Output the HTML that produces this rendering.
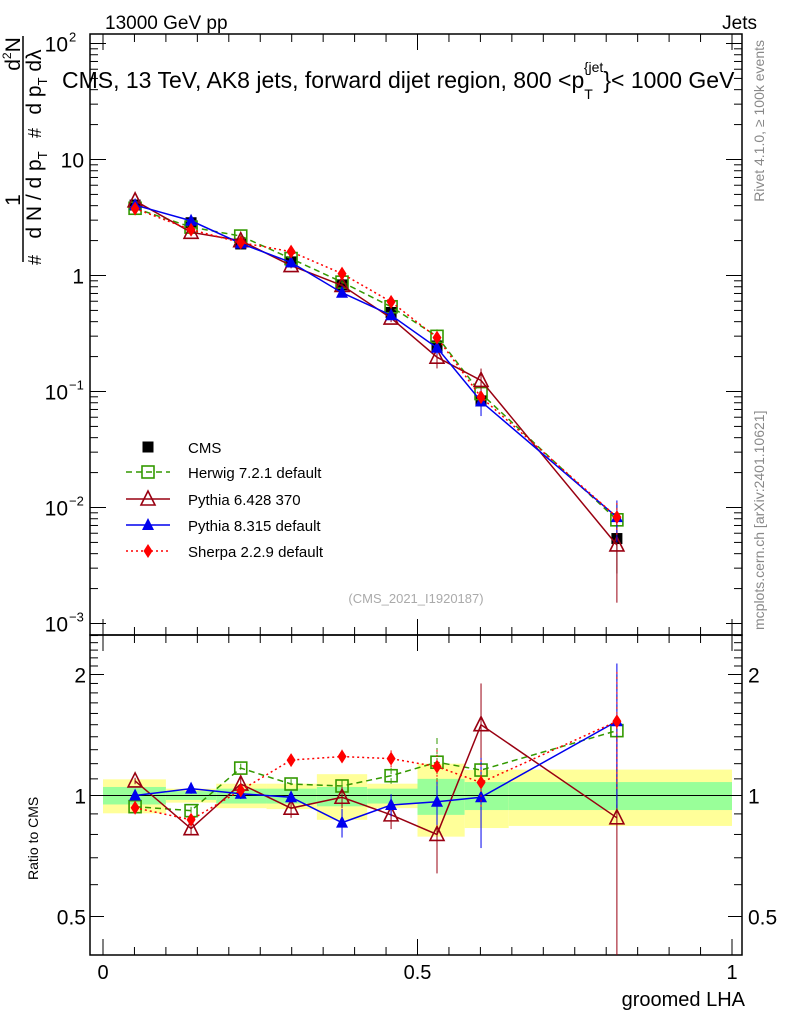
<!DOCTYPE html>
<html><head><meta charset="utf-8"><style>
body{margin:0;background:#fff;width:786px;height:1024px;overflow:hidden}
svg{display:block;font-family:"Liberation Sans",Arial,sans-serif}
</style></head><body>
<svg id="c" width="786" height="1024" viewBox="0 0 786 1024">
<rect x="0" y="0" width="786" height="1024" fill="#fff"/>
<g id="bands"></g>
<g id="axes"></g>
<g id="marks"></g>
<text x="105" y="29" font-size="19">13000 GeV pp</text>
<text x="757" y="29" font-size="19" text-anchor="end">Jets</text>
<text x="62" y="88" font-size="23">CMS, 13 TeV, AK8 jets, forward dijet region, 800 &lt;p<tspan font-size="14" dy="11">T</tspan><tspan font-size="14" dy="-27" dx="-9">{jet</tspan><tspan dy="16">}&lt; 1000 GeV</tspan></text>
<text transform="translate(764,40) rotate(-90)" font-size="14" fill="#888" text-anchor="end">Rivet 4.1.0, ≥ 100k events</text>
<text transform="translate(764,630) rotate(-90)" font-size="14" fill="#888">mcplots.cern.ch [arXiv:2401.10621]</text>
<text x="416" y="603" font-size="13" fill="#aaa" text-anchor="middle">(CMS_2021_I1920187)</text>
<g font-size="21">
<text transform="translate(20,54) rotate(-90)" text-anchor="middle">d<tspan font-size="12" dy="-9">2</tspan><tspan dy="9">N</tspan></text>
<text transform="translate(20,200) rotate(-90)" text-anchor="middle">1</text>
<line x1="23" y1="36" x2="23" y2="262" stroke="#000" stroke-width="1.5"/>
<text transform="translate(41,260) rotate(-90)" text-anchor="middle" font-size="18">#</text>
<text transform="translate(41,195) rotate(-90)" text-anchor="middle">d N / d p<tspan font-size="13" dy="6">T</tspan></text>
<text transform="translate(41,133) rotate(-90)" text-anchor="middle" font-size="18">#</text>
<text transform="translate(41,82) rotate(-90)" text-anchor="middle">d p<tspan font-size="13" dy="6">T</tspan><tspan dy="-6"> d</tspan>λ</text>
</g>
<text transform="translate(38,880) rotate(-90)" font-size="14">Ratio to CMS</text>
<text x="745" y="1006" font-size="20" text-anchor="end">groomed LHA</text>
<g id="legend"></g>
</svg>
<script>
const xCenters=[0.051,0.14,0.219,0.299,0.38,0.458,0.531,0.601,0.817];
const binEdges=[0,0.1,0.18,0.26,0.34,0.42,0.5,0.575,0.645,1.0];
const cmsValues=[4.05,2.85,1.87,1.31,0.83,0.48,0.247,0.083,0.0054];
const cmsErrRel=[0.03,0.03,0.03,0.03,0.04,0.05,0.08,0.12,0.5];
const yellowHi=[1.097,1.04,1.07,1.07,1.13,1.07,1.20,1.157,1.16];
const yellowLo=[0.903,0.96,0.93,0.925,0.87,0.93,0.79,0.83,0.84];
const greenHi=[1.05,1.025,1.04,1.04,1.05,1.04,1.10,1.08,1.08];
const greenLo=[0.95,0.975,0.955,0.955,0.94,0.955,0.895,0.92,0.92];
const herwigRatio=[0.938,0.917,1.17,1.068,1.056,1.12,1.21,1.157,1.45];
const herwigErr=[0.02,0.02,0.03,0.03,0.04,0.05,0.18,0.08,0.55];
const pythia6Ratio=[1.087,0.827,1.068,0.93,0.99,0.895,0.80,1.50,0.88];
const pythia6Err=[0.02,0.03,0.05,0.05,0.06,0.07,0.16,0.4,0.6];
const pythia8Ratio=[1.0,1.04,1.01,0.99,0.856,0.947,0.965,0.99,1.53];
const pythia8Err=[0.02,0.03,0.03,0.03,0.07,0.06,0.12,0.25,0.6];
const sherpaRatio=[0.932,0.87,1.03,1.225,1.25,1.235,1.18,1.077,1.53];
const sherpaErr=[0.02,0.03,0.04,0.04,0.05,0.06,0.12,0.15,0.5];
const mainTicks=[{v:100,l:"10",s:"2"},{v:10,l:"10"},{v:1,l:"1"},{v:0.1,l:"10",s:"−1"},{v:0.01,l:"10",s:"−2"},{v:0.001,l:"10",s:"−3"}];
const ratioTicks=[0.5,1,2];
const xTicks=[0,0.5,1];

const NS="http://www.w3.org/2000/svg";
const L=90,R=742,T=34,MB=635,RB=955;
const X=v=>103+629*v;
const Y=v=>275.5-116*Math.log10(v);
const YR=r=>795.5-121*Math.log2(r);
function mk(p,tag,at){const e=document.createElementNS(NS,tag);for(const k in at)e.setAttribute(k,at[k]);p.appendChild(e);return e;}
const ax=document.getElementById('axes'),bd=document.getElementById('bands'),mg=document.getElementById('marks'),lg=document.getElementById('legend');

for(let i=0;i<binEdges.length-1;i++){
 const x0=X(binEdges[i]),x1=X(binEdges[i+1]);
 const y=mk(bd,'rect',{x:x0,y:YR(yellowHi[i]),width:x1-x0,height:YR(yellowLo[i])-YR(yellowHi[i]),fill:'#ffff99'});
 
 
 const g=mk(bd,'rect',{x:x0,y:YR(greenHi[i]),width:x1-x0,height:YR(greenLo[i])-YR(greenHi[i]),fill:'#99ff99'});
 
 
}
mk(ax,'line',{x1:L,x2:R,y1:YR(1),y2:YR(1),stroke:'#000','stroke-width':1});
mk(ax,'rect',{x:L,y:T,width:R-L,height:MB-T,fill:'none',stroke:'#000','stroke-width':1.5});
mk(ax,'rect',{x:L,y:MB,width:R-L,height:RB-MB,fill:'none',stroke:'#000','stroke-width':1.5});
for(let d=-3;d<=2;d++){for(let m=1;m<10;m++){const v=m*Math.pow(10,d);if(v>120)break;const y=Y(v);if(y<T)continue;const len=m==1?16:8;
 mk(ax,'line',{x1:L,x2:L+len,y1:y,y2:y,stroke:'#000'});mk(ax,'line',{x1:R,x2:R-len,y1:y,y2:y,stroke:'#000'});}}
mainTicks.forEach(t=>{const tx=mk(ax,'text',{x:t.s?68:84,y:Y(t.v)+8,'font-size':21,'text-anchor':'end'});tx.textContent=t.l;
 
 
 if(t.s){const s=mk(ax,'text',{x:69,y:Y(t.v)-2,'font-size':13});s.textContent=t.s;
 
 }});
for(let r=0.4;r<=2.55;r+=0.1){const y=YR(r);if(y<MB||y>RB)continue;const maj=ratioTicks.some(t=>Math.abs(t-r)<0.01);const len=maj?14:8;
 mk(ax,'line',{x1:L,x2:L+len,y1:y,y2:y,stroke:'#000'});mk(ax,'line',{x1:R,x2:R-len,y1:y,y2:y,stroke:'#000'});}
ratioTicks.forEach(r=>{[[86,'end'],[748,'start']].forEach(([x,a])=>{const t=mk(ax,'text',{x:x,y:YR(r)+8,'font-size':21,'text-anchor':a});t.textContent=String(r);
 
 });});
for(let k=0;k<=20;k++){const v=k*0.05,x=X(v);const len=(k%10==0)?16:8;
 [[T,1],[MB,-1],[MB,1],[RB,-1]].forEach(([y0,s])=>mk(ax,'line',{x1:x,x2:x,y1:y0,y2:y0+s*len,stroke:'#000'}));}
xTicks.forEach(v=>{const t=mk(ax,'text',{x:X(v),y:979,'font-size':20,'text-anchor':'middle'});t.textContent=String(v);
 
 });

function marker(p,type,x,y,col){
 if(type=='sq')return mk(p,'rect',{x:x-5.5,y:y-5.5,width:11,height:11,fill:'#000'});
 if(type=='osq')return mk(p,'rect',{x:x-6,y:y-6,width:12,height:12,fill:'none',stroke:col,'stroke-width':1.6});
 if(type=='otri')return mk(p,'polygon',{points:`${x},${y-8} ${x-7},${y+6} ${x+7},${y+6}`,fill:'none',stroke:col,'stroke-width':1.6});
 if(type=='tri')return mk(p,'polygon',{points:`${x},${y-7} ${x-6},${y+5} ${x+6},${y+5}`,fill:col});
 if(type=='dia')return mk(p,'polygon',{points:`${x},${y-7} ${x-4.5},${y} ${x},${y+7} ${x+4.5},${y}`,fill:col});
}
const series=[
 {name:'herwig',ratio:herwigRatio,err:herwigErr,col:'#339900',dash:'6,4',m:'osq',label:'Herwig 7.2.1 default'},
 {name:'pythia6',ratio:pythia6Ratio,err:pythia6Err,col:'#990011',dash:'',m:'otri',label:'Pythia 6.428 370'},
 {name:'pythia8',ratio:pythia8Ratio,err:pythia8Err,col:'#0000ee',dash:'',m:'tri',label:'Pythia 8.315 default'},
 {name:'sherpa',ratio:sherpaRatio,err:sherpaErr,col:'#ff0000',dash:'2,3',m:'dia',label:'Sherpa 2.2.9 default'}];
xCenters.forEach((xv,i)=>{const x=X(xv),v=cmsValues[i],e=cmsErrRel[i];
 mk(mg,'line',{x1:x,x2:x,y1:Y(v*(1+e)),y2:Y(Math.max(v*(1-e),1e-4)),stroke:'#000'});
 const m=marker(mg,'sq',x,Y(v));
 
 });
series.forEach(s=>{
 const mainPts=xCenters.map((xv,i)=>X(xv)+','+Y(cmsValues[i]*s.ratio[i])).join(' ');
 const rPts=xCenters.map((xv,i)=>X(xv)+','+Math.min(YR(s.ratio[i]),RB)).join(' ');
 [mainPts,rPts].forEach(p=>{const pl=mk(mg,'polyline',{points:p,fill:'none',stroke:s.col,'stroke-width':1.5,'stroke-dasharray':s.dash});
  
  });
 xCenters.forEach((xv,i)=>{const x=X(xv),r=s.ratio[i],e=s.err[i],c=cmsValues[i];
  mk(mg,'line',{x1:x,x2:x,y1:Y(c*(r+e)),y2:Y(Math.max(c*(r-e),c*0.05)),stroke:s.col,'stroke-dasharray':s.dash});
  mk(mg,'line',{x1:x,x2:x,y1:Math.max(YR(r+e),MB),y2:Math.min(YR(Math.max(r-e,0.3)),RB),stroke:s.col,'stroke-dasharray':s.dash});
  const a=marker(mg,s.m,x,Y(c*r),s.col);
  
  
  const b=marker(mg,s.m,x,YR(r),s.col);
  
  });
});
const ly=[447,472,499,525,551];
const cm=marker(lg,'sq',148,ly[0]);


const ct=mk(lg,'text',{x:188,y:ly[0]+6,'font-size':15});ct.textContent='CMS';
series.forEach((s,k)=>{const y=ly[k+1];
 mk(lg,'line',{x1:126,x2:170,y1:y,y2:y,stroke:s.col,'stroke-width':1.5,'stroke-dasharray':s.dash});
 const m=marker(lg,s.m,148,y,s.col);
 
 
 const t=mk(lg,'text',{x:188,y:y+6,'font-size':15});t.textContent=s.label;});
</script>
</body></html>
